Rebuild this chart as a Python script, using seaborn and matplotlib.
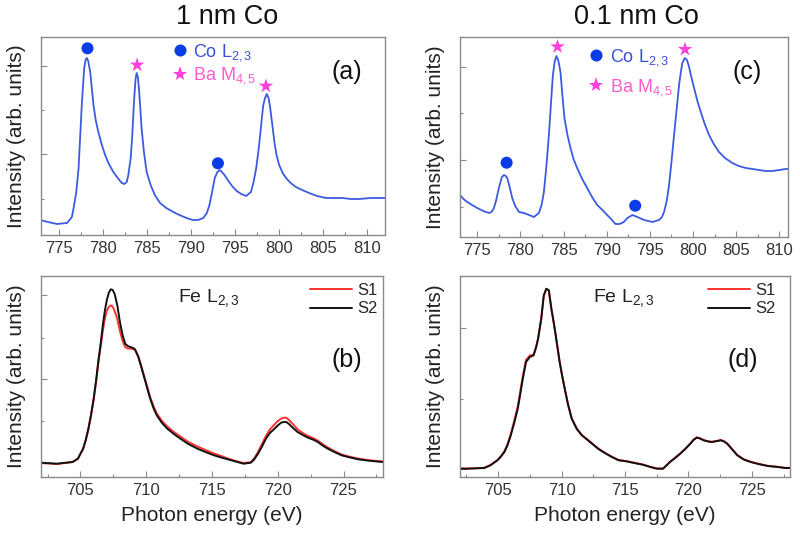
import matplotlib
matplotlib.use("Agg")
import matplotlib.pyplot as plt
import seaborn as sns
import pandas as pd
from matplotlib.ticker import MultipleLocator

# ---------------- data ----------------
# (a) 1 nm Co : Co L2,3 / Ba M4,5 region
energy_a = [772.9, 773.8, 774.8, 775.95, 776.5, 776.7, 777.0, 777.26, 777.45, 777.64,
            777.9, 778.05, 778.2, 778.35, 778.58, 778.95, 779.2, 779.5, 779.9, 780.27,
            780.7, 781.2, 781.7, 782.16, 782.45, 782.72, 782.9, 783.17, 783.35, 783.54,
            783.72, 783.85, 783.98, 784.1, 784.25, 784.4, 784.67, 784.98, 785.43, 785.9,
            786.5, 787.2, 788.0, 788.7, 789.5, 790.2, 790.8, 791.4, 791.8, 792.1,
            792.4, 792.7, 793.0, 793.25, 793.5, 793.8, 794.25, 794.75, 795.2, 795.7,
            796.26, 796.8, 797.1, 797.4, 797.65, 797.85, 798.05, 798.2, 798.4, 798.6,
            798.8, 798.97, 799.2, 799.46, 799.7, 800.0, 800.4, 800.78, 801.3, 801.9,
            802.6, 803.4, 804.3, 805.3, 806.2, 807.2, 808.1, 809.05, 810.4, 811.7,
            812.0]
intensity_a = [15, 13, 11, 12, 18, 27, 43, 67, 100, 133,
               167, 175, 177, 174, 163, 130, 115, 103, 90, 80,
               71, 63, 57, 52, 51, 53, 60, 77, 100, 133,
               156, 162, 158, 147, 128, 107, 83, 63, 50, 40,
               32, 27, 23, 20, 17, 15, 15, 17, 22, 30,
               43, 57, 63, 65, 63, 60, 54, 48, 44, 41,
               39, 43, 53, 67, 84, 100, 118, 130, 137, 141,
               137, 128, 112, 93, 80, 70, 62, 57, 52, 48,
               45, 42, 39, 37, 37, 37, 36, 36, 37, 37,
               37]
co_peaks_a_x = [778.27, 793.06]
co_peaks_a_y = [186.7, 71.7]
ba_peaks_a_x = [783.9, 798.5]
ba_peaks_a_y = [170.0, 149.0]

# (c) 0.1 nm Co : Co L2,3 / Ba M4,5 region
energy_c = [773.0, 773.4, 773.84, 774.4, 775.0, 775.7, 776.35, 776.65, 776.93, 777.2,
            777.5, 777.85, 778.1, 778.3, 778.47, 778.75, 779.05, 779.4, 779.83, 780.4,
            780.7, 781.0, 781.56, 782.14, 782.45, 782.72, 783.0, 783.3, 783.55, 783.76,
            783.98, 784.18, 784.4, 784.64, 784.85, 785.1, 785.45, 785.8, 786.15, 786.57,
            787.1, 787.73, 788.3, 788.9, 789.5, 790.05, 790.5, 791.0, 791.5, 791.98,
            792.4, 792.97, 793.55, 794.33, 795.3, 796.06, 796.4, 796.64, 796.95, 797.22,
            797.5, 797.8, 798.1, 798.38, 798.6, 798.76, 799.04, 799.3, 799.54, 799.8,
            800.12, 800.5, 800.9, 801.35, 801.85, 802.4, 803.0, 803.7, 804.55, 805.3,
            806.1, 806.9, 807.64, 808.4, 809.18, 810.0, 810.73, 811.0]
intensity_c = [42, 38, 35, 32, 29, 26, 24, 25, 29, 37,
               49, 60, 62, 61, 59, 50, 39, 31, 25, 24,
               23, 22, 20, 24, 32, 45, 70, 102, 135, 162,
               176, 181, 176, 165, 143, 119, 102, 89, 78, 69,
               59, 49, 40, 32, 27, 22, 18, 13, 13, 15,
               19, 22, 20, 17, 15, 17, 20, 25, 36, 52,
               75, 102, 128, 152, 166, 174, 179, 177, 170, 160,
               149, 136, 125, 113, 102, 93, 85, 79, 74, 71,
               69, 68, 67, 66, 66, 67, 68, 68]
co_peaks_c_x = [778.4, 793.3]
co_peaks_c_y = [74.3, 31.3]
ba_peaks_c_x = [784.3, 799.07]
ba_peaks_c_y = [190.3, 187.7]

# (b) 1 nm Co : Fe L2,3, samples S1 / S2
energy_b = [702.0, 703.2, 704.4, 704.8, 705.2, 705.4, 705.6, 705.8, 706.0, 706.2,
            706.35, 706.55, 706.7, 706.85, 707.0, 707.15, 707.3, 707.45, 707.6, 707.8,
            708.0, 708.2, 708.4, 708.6, 708.8, 709.0, 709.15, 709.4, 709.6, 709.8,
            710.05, 710.3, 710.55, 710.8, 711.2, 711.6, 712.1, 712.6, 713.2, 713.9,
            714.5, 715.15, 715.7, 716.2, 716.8, 717.4, 717.95, 718.2, 718.5, 718.8,
            719.1, 719.4, 719.75, 720.0, 720.25, 720.45, 720.65, 720.85, 721.0, 721.25,
            721.5, 721.9, 722.3, 722.7, 723.05, 723.4, 723.8, 724.3, 724.85, 725.5,
            726.1, 726.8, 727.4, 728.0]
s1_b = [14, 13, 15, 18, 28, 36.5, 47, 61, 77, 96,
        113, 132, 146, 158, 166, 170, 171.5, 170.5, 166, 158,
        146, 136, 130, 128.5, 128.5, 128, 127, 120.5, 112, 103,
        91.5, 80, 71, 63.5, 56, 50.5, 45, 40.5, 35, 30.5,
        27, 23.5, 21, 18.5, 16, 14, 14.8, 18.5, 25, 33,
        41, 47.5, 52.5, 56, 58.3, 59.3, 59.3, 57, 55, 51.5,
        47.7, 44, 41, 38.8, 36.3, 33, 29.5, 26, 22.5, 20.2,
        18.5, 17, 16.2, 15.5]
s2_b = [14.3, 13.3, 15, 18.3, 28.3, 37, 48.3, 62, 78, 98,
        115, 135, 152, 166, 176.7, 184, 187.7, 187, 183, 171.7,
        155, 142, 133.3, 131, 130, 129, 127.7, 120, 111, 101.7,
        90, 78.3, 69, 61.7, 54, 48.3, 43, 38.3, 33, 28.3,
        25, 21.7, 19.5, 17.7, 15.5, 13.3, 14.3, 17.5, 23.3, 30.5,
        38.3, 44, 48.3, 51.5, 54.3, 55, 55, 53, 51, 48,
        45, 42, 39.3, 37.3, 35, 31.5, 28.3, 25, 21.7, 19.5,
        17.7, 16.5, 15.7, 15]

# (d) 0.1 nm Co : Fe L2,3, samples S1 / S2
energy_d = [701.8, 702.6, 703.9, 704.4, 704.95, 705.2, 705.5, 705.75, 706.0, 706.25,
            706.55, 706.75, 706.95, 707.2, 707.5, 707.8, 708.0, 708.15, 708.4, 708.6,
            708.8, 709.0, 709.2, 709.35, 709.5, 709.85, 710.05, 710.25, 710.5, 710.8,
            711.2, 711.6, 712.0, 712.4, 712.9, 713.5, 714.0, 714.5, 715.1, 715.6,
            716.4, 717.0, 717.5, 718.0, 718.55, 718.95, 719.35, 719.75, 720.15, 720.4,
            720.65, 720.9, 721.2, 721.55, 721.85, 722.2, 722.55, 722.8, 723.05, 723.45,
            723.85, 724.35, 724.9, 725.5, 726.25, 727.0, 727.6, 728.4]
s1_d = [8.6, 8.5, 9.2, 12, 17, 20.5, 25.8, 33, 43, 55,
        70.5, 86, 101, 117, 121.5, 122.3, 130, 138, 158, 181,
        188, 186.5, 168, 157, 145.5, 115.5, 101.5, 88.5, 73.5, 58.8,
        48.5, 42, 38, 33.8, 28.5, 23.5, 20, 17, 15.9, 14.6,
        12.5, 10.2, 8.6, 8.5, 15.2, 19.3, 23.5, 28.3, 33.6, 37.4,
        39.7, 38.8, 36.9, 35.7, 35.2, 36, 37, 35.8, 33.5, 27.8,
        21.9, 17.8, 15.2, 13.3, 11.2, 10.3, 9.2, 9.2]
s2_d = [8.3, 8.3, 9, 11.7, 16.7, 20, 25, 32, 41.7, 53,
        68.3, 83, 98.3, 115, 120, 121.7, 130, 138.3, 158.3, 181.7,
        188.3, 186.7, 168.3, 157, 145, 115, 101, 88.3, 73, 58.3,
        48, 41.7, 37.5, 33.3, 28, 23.3, 19.8, 16.7, 15.7, 14.3,
        12.3, 10, 8.3, 8.3, 15, 19, 23.3, 28, 33.3, 37,
        39.3, 38.5, 36.7, 35.5, 35, 35.8, 36.7, 35.5, 33.3, 27.5,
        21.7, 17.5, 15, 13, 11, 10, 9, 9]

titles = ["1 nm Co", "0.1 nm Co"]
panel_tags = ["(a)", "(b)", "(c)", "(d)"]
co_label = "Co L$_{2,3}$"
ba_label = "Ba M$_{4,5}$"
fe_label = "Fe L$_{2,3}$"
sample_names = ["S1", "S2"]
ylabel = "Intensity (arb. units)"
xlabel = "Photon energy (eV)"

# ---------------- style ----------------
sns.set_style("white")
plt.rcParams["font.family"] = ["Liberation Sans", "DejaVu Sans"]
plt.rcParams["mathtext.fontset"] = "custom"
plt.rcParams["mathtext.rm"] = "Liberation Sans"
plt.rcParams["mathtext.it"] = "Liberation Sans:italic"
plt.rcParams["mathtext.bf"] = "Liberation Sans:bold"

FRAME = "#8a8a8a"
BLUE = "#3d5be0"
DOT = "#0a3ce6"
STAR = "#ff40dc"
CO_TXT = "#3a4fd8"
BA_TXT = "#ff5ccc"
RED = "#ff3030"
BLACK = "#111111"

W, H = 800, 536
fig = plt.figure(figsize=(8, 5.36), dpi=100)


def px_axes(l, t, r, b):
    return fig.add_axes([l / W, 1 - b / H, (r - l) / W, (b - t) / H])


ax_a = px_axes(41, 37, 385, 235)
ax_c = px_axes(460, 37, 788, 237)
ax_b = px_axes(41, 276, 383, 477)
ax_d = px_axes(460, 276, 790, 477)


def frame(ax, xlim, ylim, ymaj, ymin):
    ax.set_xlim(*xlim)
    ax.set_ylim(*ylim)
    for s in ax.spines.values():
        s.set_color(FRAME)
        s.set_linewidth(1.0)
        s.set_visible(True)
    ax.xaxis.set_major_locator(MultipleLocator(5))
    ax.xaxis.set_minor_locator(MultipleLocator(2.5))
    ax.set_yticks(ymaj)
    ax.set_yticks(ymin, minor=True)
    ax.set_yticklabels([])
    ax.tick_params(which="both", direction="in", color=FRAME, width=0.8,
                   bottom=True, left=True, top=False, right=False)
    ax.tick_params(which="major", length=4)
    ax.tick_params(which="minor", length=2)
    ax.tick_params(axis="x", labelsize=12, pad=4, labelcolor="#333333")
    ax.set_ylabel(ylabel, fontsize=15, color="#222222")
    ax.yaxis.set_label_coords(-0.045, 0.5)
    ax.set_xlabel("")


def top_panel(ax, energy, inten, cx, cy, bx, by, xlim, ylim, ymaj, ymin,
              title, tag, tag_xy, leg_anchor, leg_spacing, title_x):
    sns.lineplot(x=energy, y=inten, ax=ax, color=BLUE, linewidth=1.3)
    mk = pd.DataFrame({
        "E": cx + bx,
        "I": cy + by,
        "edge": [co_label] * len(cx) + [ba_label] * len(bx),
    })
    sns.scatterplot(data=mk, x="E", y="I", hue="edge", style="edge",
                    palette={co_label: DOT, ba_label: STAR},
                    markers={co_label: "o", ba_label: "*"},
                    size="edge", sizes={co_label: 75, ba_label: 120},
                    linewidth=0, ax=ax)
    leg = ax.legend(loc="upper left", bbox_to_anchor=leg_anchor, frameon=False,
                    fontsize=13, handlelength=0.6, handletextpad=0.45,
                    labelspacing=leg_spacing, borderpad=0, borderaxespad=0,
                    markerscale=1.0)
    for t, c in zip(leg.get_texts(), [CO_TXT, BA_TXT]):
        t.set_color(c)
    frame(ax, xlim, ylim, ymaj, ymin)
    ax.text(title_x, 1.1, title, transform=ax.transAxes, ha="center",
            va="center", fontsize=19.5, color="#111111")
    ax.text(tag_xy[0], tag_xy[1], tag, transform=ax.transAxes, ha="center",
            va="center", fontsize=18, color="#111111")


def bottom_panel(ax, energy, s1, s2, xlim, ylim, ymaj, ymin, tag, tag_xy,
                 fe_xy, leg_anchor):
    n = len(energy)
    df = pd.DataFrame({
        "E": energy + energy,
        "I": s1 + s2,
        "sample": [sample_names[0]] * n + [sample_names[1]] * n,
    })
    sns.lineplot(data=df, x="E", y="I", hue="sample", hue_order=sample_names,
                 palette={sample_names[0]: RED, sample_names[1]: BLACK},
                 linewidth=1.4, estimator=None, ax=ax)
    ax.legend(loc="upper left", bbox_to_anchor=leg_anchor, frameon=False,
              fontsize=12, handlelength=2.5, handletextpad=0.3,
              labelspacing=0.2, borderpad=0, borderaxespad=0)
    frame(ax, xlim, ylim, ymaj, ymin)
    ax.set_xlabel(xlabel, fontsize=15, color="#222222", labelpad=6)
    ax.text(tag_xy[0], tag_xy[1], tag, transform=ax.transAxes, ha="center",
            va="center", fontsize=18, color="#111111")
    ax.text(fe_xy[0], fe_xy[1], fe_label, transform=ax.transAxes, ha="left",
            va="center", fontsize=14, color="#222222")


top_panel(ax_a, energy_a, intensity_a, co_peaks_a_x, co_peaks_a_y,
          ba_peaks_a_x, ba_peaks_a_y, (773, 812), (0, 198),
          [80.7, 169.3], [36.4, 125.0], titles[0], panel_tags[0],
          (0.89, 0.823), (0.388, 0.975), 0.15, 0.541)
top_panel(ax_c, energy_c, intensity_c, co_peaks_c_x, co_peaks_c_y,
          ba_peaks_c_x, ba_peaks_c_y, (773, 811), (0, 200),
          [77.0, 169.7], [30.3, 123.7], titles[1], panel_tags[2],
          (0.874, 0.827), (0.398, 0.95), 0.5, 0.539)
bottom_panel(ax_b, energy_b, s1_b, s2_b, (702, 728), (0, 201),
             [13.7, 97.7, 181.7], [55.7, 139.3], panel_tags[1],
             (0.894, 0.58), (0.40, 0.89), (0.787, 0.965))
bottom_panel(ax_d, energy_d, s1_d, s2_d, (702, 728), (0, 201),
             [8.0, 149.0], [78.5], panel_tags[3],
             (0.858, 0.58), (0.402, 0.89), (0.752, 0.965))

fig.savefig("out.png", dpi=100)
